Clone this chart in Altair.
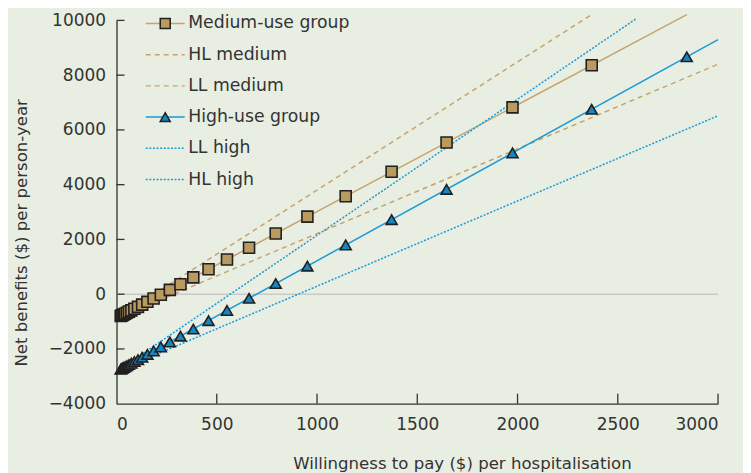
import altair as alt
import pandas as pd

# ---- data ----
wtp = [21, 25, 30, 36, 43, 52, 62, 74, 89, 107, 128, 154, 185, 221, 266, 319,
       383, 459, 551, 661, 794, 952, 1143, 1372, 1646, 1975, 2370, 2844]
medium_nb = [-798, -783, -763, -740, -712, -677, -638, -591, -533, -463, -381,
             -279, -159, -18, 157, 364, 614, 910, 1269, 1698, 2217, 2833, 3578,
             4471, 5539, 6823, 8363]
high_nb = [-2735, -2719, -2699, -2675, -2646, -2610, -2570, -2521, -2460, -2388,
           -2303, -2198, -2073, -1927, -1745, -1531, -1273, -966, -594, -150,
           388, 1026, 1798, 2723, 3830, 5159, 6755, 8670]

line_series = ["Medium-use group", "HL medium", "LL medium",
               "High-use group", "LL high", "HL high"]
line_x0 = [0, 0, 0, 0, 0, 0]
line_y0 = [-880, -880, -880, -2820, -2820, -2820]
line_x1 = [2844, 2376, 3000, 3000, 3000, 2595]
line_y1 = [10212, 10244, 8400, 9300, 6516, 10077]

x_ticks = [0, 500, 1000, 1500, 2000, 2500, 3000]
y_ticks = [-4000, -2000, 0, 2000, 4000, 6000, 8000, 10000]

# ---- styles ----
TAN_LINE = "#C4A46B"
TAN_FILL = "#B99B5F"
BLUE_LINE = "#1B9AD6"
BLUE_FILL = "#1487C3"
EDGE = "#231F20"
TXT = "#333333"
FONT = "DejaVu Sans"
BG = "#E9EEE3"

styles = {
    "Medium-use group": dict(color=TAN_LINE, dash=None, marker="square", fill=TAN_FILL),
    "HL medium": dict(color=TAN_LINE, dash=[5, 4], marker=None, fill=None),
    "LL medium": dict(color=TAN_LINE, dash=[5, 4], marker=None, fill=None),
    "High-use group": dict(color=BLUE_LINE, dash=None, marker="triangle-up", fill=BLUE_FILL),
    "LL high": dict(color=BLUE_LINE, dash=[2, 1.6], marker=None, fill=None),
    "HL high": dict(color=BLUE_LINE, dash=[2, 1.6], marker=None, fill=None),
}

W, H = 602.6, 384

xscale = alt.Scale(domain=[0, 3000], nice=False, zero=False)
yscale = alt.Scale(domain=[-4000, 10000], nice=False, zero=False)

x_axis = alt.Axis(values=x_ticks, ticks=False, tickSize=0, grid=False, format="d",
                  labelPadding=13, title="Willingness to pay ($) per hospitalisation",
                  titleX=346, titleY=65, titleBaseline="alphabetic", titleAlign="center",
                  titleAnchor="start")
y_axis = alt.Axis(values=y_ticks, ticks=False, tickSize=0, grid=False, format="d",
                  labelPadding=11, title="Net benefits ($) per person-year",
                  titleX=-90.2, titleY=212.3, titleBaseline="alphabetic", titleAlign="center",
                  titleAngle=-90, titleAnchor="start")

lines_rows = []
for s, x0, y0, x1, y1 in zip(line_series, line_x0, line_y0, line_x1, line_y1):
    lines_rows.append({"series": s, "wtp": x0, "nb": y0})
    lines_rows.append({"series": s, "wtp": x1, "nb": y1})
lines_df = pd.DataFrame(lines_rows)

med_df = pd.DataFrame({"wtp": wtp[:len(medium_nb)], "nb": medium_nb})
high_df = pd.DataFrame({"wtp": wtp[:len(high_nb)], "nb": high_nb})

layers = []

# zero reference line (carries the y axis)
zero = alt.Chart(pd.DataFrame({"nb": [0]})).mark_rule(
    color="#C9C9C9", strokeWidth=1.5
).encode(
    y=alt.Y("nb:Q", scale=yscale, axis=y_axis),
)
layers.append(zero)

axis_holder = alt.Chart(pd.DataFrame({"wtp": [0], "nb": [0]})).mark_point(opacity=0).encode(
    x=alt.X("wtp:Q", scale=xscale, axis=x_axis),
    y=alt.Y("nb:Q", scale=yscale, axis=y_axis),
)
layers.append(axis_holder)

for s in line_series:
    st = styles[s]
    kw = dict(color=st["color"], strokeWidth=1.5, strokeCap="butt")
    if st["dash"]:
        kw["strokeDash"] = st["dash"]
    layers.append(
        alt.Chart(lines_df).transform_filter(alt.datum.series == s).mark_line(**kw).encode(
            x=alt.X("wtp:Q", scale=xscale),
            y=alt.Y("nb:Q", scale=yscale),
            order="wtp:Q",
        )
    )

layers.append(
    alt.Chart(med_df).mark_point(shape="square", filled=True, fill=TAN_FILL, stroke=EDGE,
                                 strokeWidth=1.6, size=121, opacity=1).encode(
        x=alt.X("wtp:Q", scale=xscale), y=alt.Y("nb:Q", scale=yscale))
)
layers.append(
    alt.Chart(high_df).mark_point(shape="triangle-up", filled=True, fill=BLUE_FILL, stroke=EDGE,
                                  strokeWidth=1.6, size=121, opacity=1).encode(
        x=alt.X("wtp:Q", scale=xscale), y=alt.Y("nb:Q", scale=yscale))
)

# inward tick marks
xt_df = pd.DataFrame({"wtp": x_ticks[1:]})
layers.append(
    alt.Chart(xt_df).mark_rule(color=TXT, strokeWidth=1.3).encode(
        x=alt.X("wtp:Q", scale=xscale), y=alt.value(H), y2=alt.value(H - 10))
)
yt_df = pd.DataFrame({"nb": y_ticks[1:]})
layers.append(
    alt.Chart(yt_df).mark_rule(color=TXT, strokeWidth=1.3).encode(
        y=alt.Y("nb:Q", scale=yscale), x=alt.value(0), x2=alt.value(8))
)

# manual legend (top-left, inside plot)
legend_df = pd.DataFrame({"label": line_series})
for i, s in enumerate(line_series):
    st = styles[s]
    yy = 3 + i * 31.3
    src = alt.Chart(legend_df).transform_filter(alt.datum.label == s)
    kw = dict(color=st["color"], strokeWidth=1.5, strokeCap="butt")
    if st["dash"]:
        kw["strokeDash"] = st["dash"]
    layers.append(src.mark_rule(**kw).encode(x=alt.value(29.3), x2=alt.value(68.3), y=alt.value(yy)))
    if st["marker"]:
        layers.append(src.mark_point(shape=st["marker"], filled=True, fill=st["fill"], stroke=EDGE,
                                     strokeWidth=1.5, size=100, opacity=1).encode(
            x=alt.value(48.8), y=alt.value(yy)))
    layers.append(src.mark_text(align="left", baseline="middle", font=FONT, fontSize=17.3,
                                color=TXT).encode(
        x=alt.value(71.8), y=alt.value(yy), text="label:N"))

chart = alt.layer(*layers).properties(
    width=W, height=H,
    autosize=alt.AutoSizeParams(type="none"),
    padding={"left": 108.7, "top": 12, "right": 25, "bottom": 72},
    background=BG,
).configure_view(stroke=None).configure_axis(
    domainColor=TXT, domainWidth=1.3, labelFont=FONT, labelFontSize=17, labelColor=TXT,
    titleFont=FONT, titleFontSize=16.6, titleColor=TXT, titleFontWeight="normal",
)

chart.save("out.html", embed_options={"renderer": "svg", "actions": False})
